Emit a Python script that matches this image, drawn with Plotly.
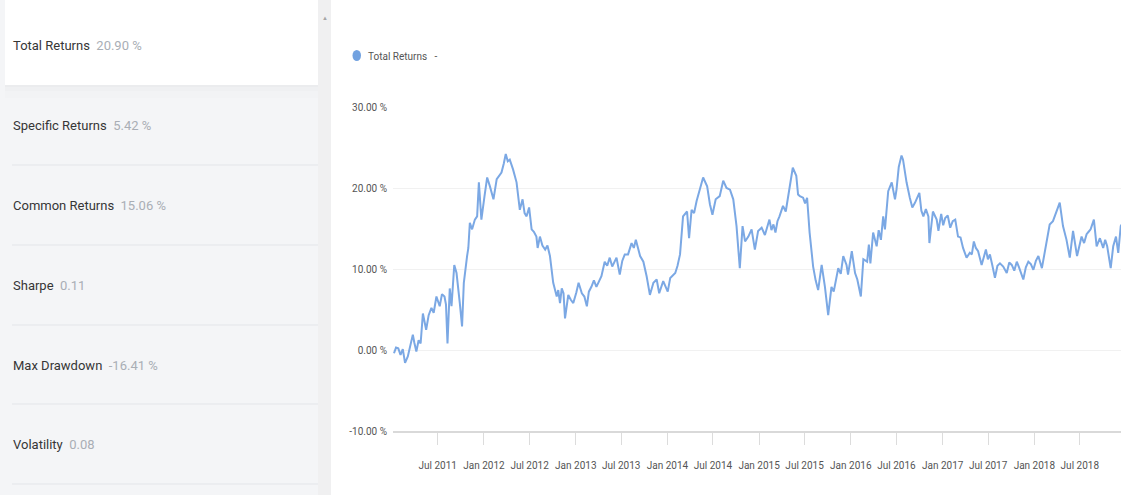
import plotly.graph_objects as go

# ---- summary statistics shown in the side panel ----
STAT_LABELS = ["Total Returns", "Specific Returns", "Common Returns", "Sharpe", "Max Drawdown", "Volatility"]
STAT_VALUES = ["20.90 %", "5.42 %", "15.06 %", "0.11", "-16.41 %", "0.08"]

# ---- cumulative total return series (percent) ----
DATES = [
    "2011-01-08", "2011-01-16", "2011-01-25", "2011-02-03", "2011-02-12", "2011-02-21", "2011-03-04", "2011-03-14",
    "2011-03-24", "2011-03-30", "2011-04-07", "2011-04-16", "2011-04-24", "2011-05-03", "2011-05-09", "2011-05-16",
    "2011-05-26", "2011-06-06", "2011-06-15", "2011-06-26", "2011-07-09", "2011-07-18", "2011-07-28", "2011-08-03",
    "2011-08-09", "2011-08-18", "2011-08-25", "2011-09-05", "2011-09-14", "2011-09-20", "2011-09-27", "2011-10-06",
    "2011-10-13", "2011-10-26", "2011-10-31", "2011-11-06", "2011-11-15", "2011-11-26", "2011-12-05", "2011-12-12",
    "2011-12-22", "2012-01-03", "2012-01-14", "2012-01-25", "2012-02-08", "2012-02-21", "2012-03-01", "2012-03-11",
    "2012-03-20", "2012-03-28", "2012-04-05", "2012-04-13", "2012-04-26", "2012-05-10", "2012-05-23", "2012-06-03",
    "2012-06-11", "2012-06-19", "2012-06-29", "2012-07-09", "2012-07-18", "2012-07-28", "2012-08-02", "2012-08-11",
    "2012-08-21", "2012-09-01", "2012-09-10", "2012-09-20", "2012-10-03", "2012-10-17", "2012-10-23", "2012-10-30",
    "2012-11-06", "2012-11-13", "2012-11-19", "2012-12-02", "2012-12-12", "2012-12-22", "2013-01-03", "2013-01-12",
    "2013-01-25", "2013-02-04", "2013-02-14", "2013-02-22", "2013-03-04", "2013-03-14", "2013-03-24", "2013-04-13",
    "2013-04-26", "2013-05-06", "2013-05-16", "2013-05-26", "2013-06-12", "2013-06-25", "2013-07-05", "2013-07-15",
    "2013-07-28", "2013-08-11", "2013-08-20", "2013-08-28", "2013-09-14", "2013-09-27", "2013-10-10", "2013-10-23",
    "2013-11-06", "2013-11-19", "2013-11-29", "2013-12-15", "2014-01-02", "2014-01-12", "2014-02-01", "2014-02-10",
    "2014-02-20", "2014-03-04", "2014-03-20", "2014-03-28", "2014-04-07", "2014-04-17", "2014-04-27", "2014-05-10",
    "2014-05-23", "2014-06-08", "2014-06-19", "2014-06-29", "2014-07-12", "2014-07-28", "2014-08-11", "2014-08-24",
    "2014-09-07", "2014-09-20", "2014-10-03", "2014-10-16", "2014-10-27", "2014-11-06", "2014-11-19", "2014-12-02",
    "2014-12-15", "2014-12-28", "2015-01-11", "2015-01-24", "2015-02-11", "2015-02-19", "2015-02-27", "2015-03-07",
    "2015-03-15", "2015-03-23", "2015-04-06", "2015-04-17", "2015-04-30", "2015-05-15", "2015-05-29", "2015-06-05",
    "2015-06-12", "2015-06-25", "2015-07-03", "2015-07-11", "2015-07-21", "2015-08-04", "2015-08-14", "2015-08-24",
    "2015-09-07", "2015-09-20", "2015-10-03", "2015-10-16", "2015-10-25", "2015-11-03", "2015-11-12", "2015-11-22",
    "2015-12-02", "2015-12-15", "2015-12-21", "2016-01-05", "2016-01-18", "2016-01-27", "2016-02-10", "2016-02-20",
    "2016-03-06", "2016-03-13", "2016-03-19", "2016-03-30", "2016-04-13", "2016-04-21", "2016-04-30", "2016-05-09",
    "2016-05-16", "2016-05-29", "2016-06-12", "2016-06-25", "2016-07-01", "2016-07-10", "2016-07-21", "2016-07-27",
    "2016-08-10", "2016-08-23", "2016-09-02", "2016-09-13", "2016-09-30", "2016-10-08", "2016-10-16", "2016-10-26",
    "2016-11-05", "2016-11-09", "2016-11-23", "2016-12-08", "2016-12-15", "2016-12-26", "2017-01-03", "2017-01-11",
    "2017-01-21", "2017-01-31", "2017-02-10", "2017-02-20", "2017-03-03", "2017-03-13", "2017-03-23", "2017-04-06",
    "2017-04-19", "2017-04-27", "2017-05-05", "2017-05-13", "2017-05-22", "2017-06-05", "2017-06-22", "2017-06-30",
    "2017-07-08", "2017-07-18", "2017-07-28", "2017-08-07", "2017-08-17", "2017-08-30", "2017-09-13", "2017-09-23",
    "2017-10-03", "2017-10-13", "2017-10-23", "2017-11-01", "2017-11-09", "2017-11-18", "2017-11-28", "2017-12-08",
    "2017-12-18", "2017-12-28", "2018-01-07", "2018-01-17", "2018-01-31", "2018-02-13", "2018-02-21", "2018-03-03",
    "2018-03-16", "2018-03-29", "2018-04-12", "2018-04-25", "2018-05-09", "2018-05-22", "2018-06-04", "2018-06-20",
    "2018-06-29", "2018-07-08", "2018-07-18", "2018-07-28", "2018-08-05", "2018-08-13", "2018-08-26", "2018-09-06",
    "2018-09-19", "2018-10-02", "2018-10-10", "2018-10-18", "2018-11-01", "2018-11-11", "2018-11-22", "2018-12-01",
    "2018-12-11", "2018-12-24",
]
TOTAL_RETURNS = [
    -0.4, 0.3, 0.2, -0.6, 0.1, -1.6, -0.8, 0.6,
    1.9, 0.9, -0.2, 1.2, 0.8, 4.5, 3.6, 2.5,
    4.3, 5.2, 4.6, 6.6, 5.4, 6.9, 6.6, 5.6,
    0.8, 7.6, 5.4, 10.5, 9.5, 7.4, 5.8, 2.9,
    8.3, 11.6, 12.6, 15.7, 14.9, 16.1, 16.5, 20.7,
    16.1, 18.9, 21.3, 20.2, 18.6, 21.1, 21.5, 21.9,
    23.0, 24.2, 23.3, 23.5, 22.3, 20.7, 17.3, 18.6,
    16.9, 16.5, 17.6, 14.9, 14.6, 14.0, 12.6, 14.0,
    12.9, 12.4, 12.9, 11.6, 8.3, 6.6, 7.4, 5.8,
    7.6, 7.0, 3.9, 6.8, 6.2, 5.8, 7.1, 8.3,
    7.0, 6.6, 5.4, 7.2, 7.8, 8.6, 7.8, 9.1,
    10.9, 10.4, 11.4, 10.3, 11.4, 9.3, 11.0, 11.8,
    11.8, 13.2, 12.6, 13.6, 11.6, 10.9, 9.1, 6.8,
    8.3, 8.7, 7.0, 8.5, 7.2, 8.9, 9.5, 10.4,
    11.8, 16.5, 17.1, 13.8, 17.3, 16.9, 18.4, 19.8,
    21.3, 20.2, 18.0, 16.7, 18.6, 19.0, 20.9, 20.0,
    19.8, 18.6, 15.3, 10.1, 15.3, 13.4, 14.0, 14.9,
    12.4, 14.7, 15.1, 14.2, 16.1, 14.8, 15.5, 14.5,
    15.9, 16.5, 17.8, 17.1, 19.4, 22.5, 21.5, 19.2,
    19.0, 18.8, 18.1, 18.8, 14.5, 10.3, 8.6, 7.4,
    10.5, 7.8, 4.3, 7.8, 7.2, 8.6, 10.1, 9.4,
    11.6, 10.5, 9.3, 12.2, 9.5, 8.7, 6.6, 11.2,
    10.9, 13.0, 10.7, 14.5, 12.8, 14.8, 13.6, 16.5,
    14.9, 19.6, 20.7, 18.6, 19.8, 22.6, 24.0, 23.5,
    20.7, 18.8, 17.6, 18.2, 19.4, 17.2, 16.5, 17.4,
    16.5, 13.2, 17.1, 16.1, 14.7, 16.8, 15.4, 16.3,
    16.6, 15.1, 15.9, 16.1, 14.0, 13.9, 12.6, 11.4,
    12.0, 11.8, 13.4, 12.6, 12.2, 10.5, 12.4, 11.2,
    11.8, 10.4, 8.9, 10.4, 10.7, 10.3, 9.5, 10.8,
    10.5, 9.8, 10.9, 10.2, 9.6, 8.7, 10.2, 10.9,
    10.6, 9.9, 11.0, 11.6, 10.1, 12.2, 13.6, 15.5,
    15.9, 16.9, 18.2, 15.3, 13.6, 11.4, 14.7, 11.6,
    13.0, 14.0, 13.2, 14.3, 14.6, 14.9, 16.1, 12.8,
    13.8, 12.6, 13.6, 12.8, 10.1, 12.8, 14.0, 12.0,
    15.3, 16.0,
]
Y_TICKS = [-10, 0, 10, 20, 30]
X_RANGE = ["2011-01-04", "2018-12-12"]
Y_RANGE = [-10, 30]

assert len(DATES) == len(TOTAL_RETURNS)

W, H = 1121, 495
M_L, M_R, M_T, M_B = 393, 0, 107, 64
PW, PH = W - M_L - M_R, H - M_T - M_B

FONT = "Roboto, Liberation Sans, sans-serif"
LINE_BLUE = "#7ba8e4"


def px_x(x):
    """Pixel column -> paper x."""
    return (x - M_L) / PW


def px_y(y):
    """Pixel row -> paper y."""
    return (H - M_B - y) / PH


fig = go.Figure()
fig.add_trace(go.Scatter(
    x=DATES, y=TOTAL_RETURNS, mode="lines", name="Total Returns",
    line=dict(color=LINE_BLUE, width=2), showlegend=False,
    hovertemplate="%{x|%b %d %Y}<br>%{y:.2f} %<extra></extra>",
))

shapes = []
annotations = []


def rect(x0, y0, x1, y1, color):
    shapes.append(dict(
        type="rect", xref="paper", yref="paper", layer="below",
        x0=px_x(x0), x1=px_x(x1), y0=px_y(y1), y1=px_y(y0),
        fillcolor=color, line=dict(width=0),
    ))


# side panel background
rect(0, 0, 318, H, "#f4f5f7")
# scrollbar track
rect(318, 0, 331, H, "#f0f0f1")
# highlighted card with a soft shadow underneath
rect(5, 85, 318, 87, "rgba(0,0,0,0.035)")
rect(5, 87, 318, 91, "rgba(0,0,0,0.02)")
rect(5, 91, 318, 98, "rgba(0,0,0,0.008)")
rect(5, 0, 318, 85, "#ffffff")

# row separators
for sep_y in [165, 245, 325, 404, 484]:
    shapes.append(dict(
        type="line", xref="paper", yref="paper", layer="below",
        x0=px_x(12), x1=px_x(318), y0=px_y(sep_y), y1=px_y(sep_y),
        line=dict(color="#e3e5e9", width=1),
    ))

# scrollbar arrow
annotations.append(dict(
    xref="paper", yref="paper", x=px_x(325), y=px_y(17), text="▲",
    showarrow=False, font=dict(size=6, color="#a6a6a6", family=FONT),
    xanchor="center", yanchor="middle",
))

# stat rows
row_centers = [45, 125, 205, 285, 365, 444]
for label, value, cy in zip(STAT_LABELS, STAT_VALUES, row_centers):
    annotations.append(dict(
        xref="paper", yref="paper", x=px_x(11), y=px_y(cy),
        text=f"{label}&nbsp;&nbsp;<span style='color:#a9aeb5'>{value}</span>",
        showarrow=False, xanchor="left", yanchor="middle",
        font=dict(size=13, color="#363636", family=FONT),
    ))

# legend marker and label
shapes.append(dict(
    type="circle", xref="paper", yref="paper",
    x0=px_x(352.5), x1=px_x(361), y0=px_y(61), y1=px_y(50),
    fillcolor="#72a2e0", line=dict(width=0),
))
annotations.append(dict(
    xref="paper", yref="paper", x=px_x(366), y=px_y(57),
    text="Total Returns&nbsp;&nbsp;&nbsp;-", showarrow=False,
    xanchor="left", yanchor="middle",
    font=dict(size=10, color="#555555", family=FONT),
))

fig.update_layout(
    width=W, height=H,
    margin=dict(l=M_L, r=M_R, t=M_T, b=M_B, pad=0),
    paper_bgcolor="#ffffff", plot_bgcolor="#ffffff",
    font=dict(family=FONT, size=10, color="#555555"),
    shapes=shapes, annotations=annotations,
    showlegend=False,
    xaxis=dict(
        type="date", range=X_RANGE,
        tick0="2011-07-01", dtick="M6", tickformat="%b %Y",
        showgrid=False, zeroline=False,
        showline=True, linecolor="#d9d9d9", linewidth=2,
        ticks="outside", ticklen=12, tickcolor="#dcdcdc", tickwidth=1,
        ticklabelstandoff=12,
        tickfont=dict(size=10, color="#555555", family=FONT),
    ),
    yaxis=dict(
        range=Y_RANGE, tickvals=Y_TICKS,
        ticktext=[f"{v:.2f} %" for v in Y_TICKS],
        showgrid=True, gridcolor="#f1f1f1", gridwidth=1,
        zeroline=False, showline=False, ticks="",
        ticklabelstandoff=5,
        tickfont=dict(size=10, color="#555555", family=FONT),
    ),
)

fig.write_html("out.html")
